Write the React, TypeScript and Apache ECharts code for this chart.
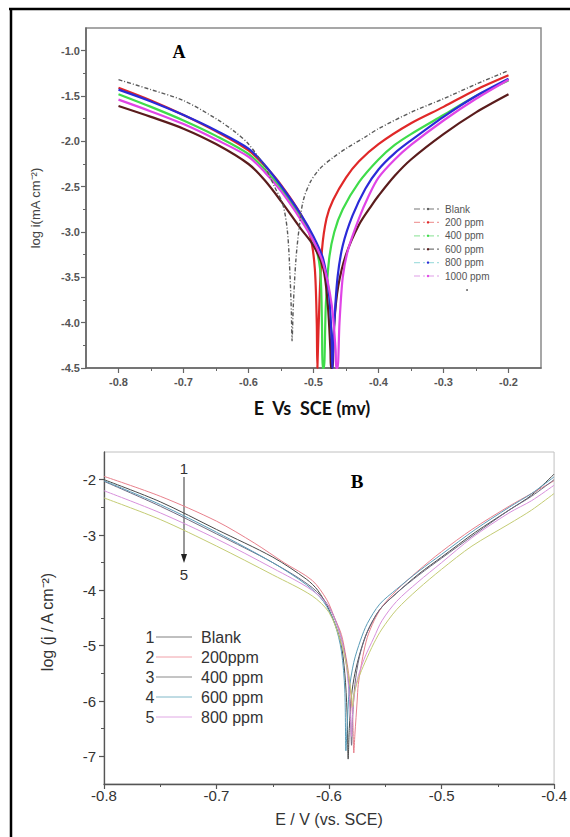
import React, { useEffect, useRef } from "react";
import * as echarts from "echarts";

// ---------- Panel A data ----------
const A_NAMES = ["Blank", "200 ppm", "400 ppm", "600 ppm", "800 ppm", "1000 ppm"];
const A_COLORS = ["#5a5a5a", "#e02828", "#3fdc4a", "#5a1c1c", "#2a2ad8", "#e044e6"];
const A_LEGEND_COLORS = ["#777777", "#f0a0a0", "#9ee8a8", "#777777", "#a8e0e0", "#e0a0e8"];
const A_BLANK = [[-0.8,-1.32],[-0.75,-1.43],[-0.7,-1.55],[-0.65,-1.75],[-0.62,-1.9],[-0.6,-2.03],[-0.575,-2.28],[-0.56,-2.5],[-0.547,-2.7],[-0.54,-3.0],[-0.536,-3.5],[-0.534,-3.9],[-0.533,-4.2],[-0.531,-3.8],[-0.527,-3.3],[-0.522,-2.95],[-0.516,-2.66],[-0.505,-2.45],[-0.49,-2.3],[-0.47,-2.18],[-0.45,-2.08],[-0.42,-1.95],[-0.4,-1.86],[-0.35,-1.68],[-0.3,-1.53],[-0.25,-1.37],[-0.2,-1.22]];
const A_200 = [[-0.8,-1.41],[-0.75,-1.55],[-0.7,-1.71],[-0.65,-1.89],[-0.6,-2.1],[-0.575,-2.27],[-0.55,-2.48],[-0.52,-2.8],[-0.505,-3.05],[-0.498,-3.4],[-0.495,-4.0],[-0.494,-4.5],[-0.493,-4.5],[-0.491,-3.8],[-0.487,-3.2],[-0.48,-2.85],[-0.47,-2.65],[-0.45,-2.4],[-0.43,-2.22],[-0.4,-2.03],[-0.35,-1.8],[-0.3,-1.62],[-0.25,-1.43],[-0.2,-1.27]];
const A_400 = [[-0.8,-1.48],[-0.75,-1.62],[-0.7,-1.77],[-0.65,-1.94],[-0.6,-2.14],[-0.575,-2.31],[-0.55,-2.52],[-0.52,-2.84],[-0.5,-3.1],[-0.49,-3.4],[-0.487,-4.0],[-0.486,-4.5],[-0.484,-4.5],[-0.481,-3.8],[-0.476,-3.3],[-0.468,-3.0],[-0.455,-2.75],[-0.43,-2.45],[-0.4,-2.2],[-0.375,-2.04],[-0.35,-1.92],[-0.3,-1.71],[-0.25,-1.5],[-0.2,-1.33]];
const A_600 = [[-0.8,-1.61],[-0.75,-1.73],[-0.7,-1.86],[-0.65,-2.03],[-0.6,-2.25],[-0.575,-2.43],[-0.55,-2.66],[-0.52,-2.96],[-0.5,-3.15],[-0.485,-3.4],[-0.478,-3.8],[-0.474,-4.3],[-0.473,-4.5],[-0.471,-4.5],[-0.468,-4.0],[-0.462,-3.6],[-0.45,-3.25],[-0.43,-2.92],[-0.41,-2.7],[-0.4,-2.6],[-0.375,-2.38],[-0.35,-2.2],[-0.3,-1.92],[-0.25,-1.68],[-0.2,-1.48]];
const A_800 = [[-0.8,-1.43],[-0.75,-1.56],[-0.7,-1.71],[-0.65,-1.88],[-0.6,-2.08],[-0.575,-2.26],[-0.55,-2.49],[-0.52,-2.8],[-0.5,-3.05],[-0.485,-3.3],[-0.476,-3.7],[-0.472,-4.2],[-0.471,-4.5],[-0.47,-4.5],[-0.468,-4.0],[-0.463,-3.5],[-0.455,-3.15],[-0.44,-2.82],[-0.42,-2.52],[-0.4,-2.31],[-0.375,-2.13],[-0.35,-1.99],[-0.3,-1.73],[-0.25,-1.5],[-0.2,-1.31]];
const A_1000 = [[-0.8,-1.54],[-0.75,-1.67],[-0.7,-1.81],[-0.65,-1.98],[-0.6,-2.17],[-0.575,-2.34],[-0.55,-2.55],[-0.52,-2.86],[-0.5,-3.1],[-0.485,-3.35],[-0.472,-3.8],[-0.466,-4.3],[-0.465,-4.5],[-0.463,-4.5],[-0.46,-4.0],[-0.455,-3.5],[-0.447,-3.2],[-0.43,-2.85],[-0.415,-2.6],[-0.4,-2.4],[-0.375,-2.2],[-0.35,-2.04],[-0.3,-1.77],[-0.25,-1.53],[-0.2,-1.32]];
const A_SERIES = [A_BLANK, A_200, A_400, A_600, A_800, A_1000];
const A_X_MAJOR = [-0.8, -0.7, -0.6, -0.5, -0.4, -0.3, -0.2];
const A_X_MINOR = [-0.75, -0.65, -0.55, -0.45, -0.35, -0.25];
const A_Y_MAJOR = [-4.5, -4.0, -3.5, -3.0, -2.5, -2.0, -1.5, -1.0];
const A_Y_MINOR = [-4.25, -3.75, -3.25, -2.75, -2.25, -1.75, -1.25];

// ---------- Panel B data ----------
const B_NAMES = ["Blank", "200ppm", "400 ppm", "600 ppm", "800 ppm"];
const B_NUMS = ["1", "2", "3", "4", "5"];
const B_COLORS = ["#4a4a4a", "#e8808c", "#6e6a80", "#5a9cb8", "#d890dc", "#c4cc74"];
const B_LEGEND_COLORS = ["#808080", "#f0a0a8", "#8a8a8a", "#80b8c8", "#e0a8e4"];
const B_BLANK = [[-0.8,-2.0],[-0.75,-2.4],[-0.7,-2.9],[-0.65,-3.4],[-0.62,-3.8],[-0.61,-4.0],[-0.6,-4.35],[-0.59,-4.9],[-0.586,-5.5],[-0.584,-6.2],[-0.583,-7.05],[-0.582,-6.5],[-0.58,-5.9],[-0.577,-5.5],[-0.572,-5.1],[-0.566,-4.75],[-0.555,-4.35],[-0.54,-4.05],[-0.52,-3.7],[-0.5,-3.4],[-0.47,-2.95],[-0.44,-2.55],[-0.42,-2.28],[-0.4,-1.9]];
const B_200 = [[-0.8,-1.94],[-0.75,-2.3],[-0.7,-2.75],[-0.666,-3.15],[-0.64,-3.5],[-0.615,-3.82],[-0.602,-4.17],[-0.595,-4.5],[-0.589,-4.8],[-0.585,-5.2],[-0.582,-5.6],[-0.579,-6.3],[-0.578,-6.94],[-0.577,-6.6],[-0.575,-6.0],[-0.574,-5.7],[-0.57,-5.2],[-0.566,-4.85],[-0.56,-4.55],[-0.553,-4.3],[-0.54,-4.0],[-0.521,-3.65],[-0.5,-3.3],[-0.473,-2.9],[-0.44,-2.48],[-0.42,-2.25],[-0.4,-2.02]];
const B_400 = [[-0.8,-2.03],[-0.75,-2.48],[-0.7,-2.98],[-0.65,-3.5],[-0.615,-3.95],[-0.6,-4.3],[-0.59,-4.8],[-0.584,-5.4],[-0.581,-6.2],[-0.58,-6.8],[-0.579,-6.3],[-0.577,-5.7],[-0.573,-5.2],[-0.566,-4.75],[-0.555,-4.35],[-0.54,-4.05],[-0.52,-3.72],[-0.5,-3.42],[-0.47,-2.98],[-0.44,-2.55],[-0.42,-2.3],[-0.4,-2.0]];
const B_600 = [[-0.8,-2.02],[-0.75,-2.45],[-0.7,-2.95],[-0.65,-3.5],[-0.62,-3.9],[-0.605,-4.2],[-0.595,-4.6],[-0.589,-5.1],[-0.586,-5.8],[-0.585,-6.9],[-0.584,-6.5],[-0.582,-5.8],[-0.578,-5.3],[-0.572,-4.9],[-0.566,-4.6],[-0.555,-4.25],[-0.54,-3.98],[-0.52,-3.65],[-0.5,-3.35],[-0.47,-2.9],[-0.44,-2.5],[-0.42,-2.25],[-0.4,-1.95]];
const B_800 = [[-0.8,-2.2],[-0.75,-2.6],[-0.7,-3.07],[-0.65,-3.6],[-0.615,-4.0],[-0.6,-4.3],[-0.59,-4.8],[-0.585,-5.3],[-0.582,-5.9],[-0.58,-6.64],[-0.579,-6.2],[-0.576,-5.7],[-0.569,-5.25],[-0.56,-4.85],[-0.553,-4.55],[-0.54,-4.2],[-0.521,-3.85],[-0.5,-3.5],[-0.473,-3.05],[-0.44,-2.6],[-0.42,-2.38],[-0.4,-2.1]];
const B_EXTRA = [[-0.8,-2.33],[-0.75,-2.72],[-0.7,-3.2],[-0.65,-3.72],[-0.615,-4.1],[-0.6,-4.4],[-0.59,-4.9],[-0.584,-5.4],[-0.58,-5.9],[-0.579,-6.1],[-0.578,-5.9],[-0.574,-5.6],[-0.568,-5.3],[-0.56,-4.95],[-0.553,-4.7],[-0.54,-4.35],[-0.521,-3.98],[-0.5,-3.62],[-0.473,-3.2],[-0.44,-2.8],[-0.42,-2.55],[-0.4,-2.25]];
const B_SERIES = [B_BLANK, B_200, B_400, B_600, B_800, B_EXTRA];
const B_X_MAJOR = [-0.8, -0.7, -0.6, -0.5, -0.4];
const B_X_MINOR = [-0.75, -0.65, -0.55, -0.45];
const B_Y_MAJOR = [-7, -6, -5, -4, -3, -2];
const B_Y_MINOR = [-6.5, -5.5, -4.5, -3.5, -2.5];

const SANS = "'Liberation Sans', Arial, sans-serif";
const SERIF = "'Liberation Serif', 'Times New Roman', serif";

function mainAxis(gridIndex: number, min: number, max: number, major: number[], opts: any) {
  return {
    type: "value",
    gridIndex,
    min,
    max,
    position: opts.position,
    splitLine: { show: false },
    axisLine: { show: true, onZero: false, lineStyle: { color: opts.lineColor, width: opts.lineWidth } },
    axisTick: { show: true, inside: false, length: 5, customValues: major, lineStyle: { color: opts.lineColor, width: 1.2 } },
    axisLabel: {
      show: true,
      customValues: major,
      margin: opts.margin,
      color: opts.labelColor,
      fontSize: opts.fontSize,
      fontFamily: SANS,
      fontWeight: opts.fontWeight || "normal",
      formatter: opts.formatter,
    },
  };
}

function minorAxis(gridIndex: number, min: number, max: number, minor: number[], position: string, color: string) {
  return {
    type: "value",
    gridIndex,
    min,
    max,
    position,
    splitLine: { show: false },
    axisLine: { show: false, onZero: false },
    axisTick: { show: true, inside: false, length: 3, customValues: minor, lineStyle: { color, width: 1 } },
    axisLabel: { show: false },
  };
}

export default function App() {
  const ref = useRef<HTMLDivElement>(null);

  useEffect(() => {
    if (!ref.current) return;
    const chart = echarts.init(ref.current, null, { renderer: "svg" });

    const seriesA = A_SERIES.map((d, i) => ({
      name: A_NAMES[i],
      type: "line",
      xAxisIndex: 0,
      yAxisIndex: 0,
      data: d,
      showSymbol: false,
      smooth: 0.3,
      lineStyle: i === 0
        ? { color: A_COLORS[i], width: 1.4, type: [4, 2, 1, 2] }
        : { color: A_COLORS[i], width: 2.2 },
      z: i === 0 ? 3 : 2,
    }));
    const seriesB = B_SERIES.map((d, i) => ({
      name: i < B_NAMES.length ? B_NAMES[i] : "extra",
      type: "line",
      xAxisIndex: 2,
      yAxisIndex: 2,
      data: d,
      showSymbol: false,
      smooth: 0.3,
      lineStyle: { color: B_COLORS[i], width: 1 },
    }));

    const graphic: any[] = [
      // outer frame
      { type: "line", shape: { x1: 9, y1: 9, x2: 570, y2: 9 }, style: { stroke: "#000", lineWidth: 2.5 } },
      { type: "line", shape: { x1: 11, y1: 8, x2: 11, y2: 837 }, style: { stroke: "#000", lineWidth: 2.5 } },
      // Panel A texts
      { type: "text", x: 179, y: 52, style: { text: "A", font: `bold 18px ${SERIF}`, fill: "#000", align: "center", verticalAlign: "middle" } },
      { type: "text", x: 312, y: 408, style: { text: "E  Vs  SCE (mv)", font: `bold 18px Lato, ${SANS}`, fill: "#111", align: "center", verticalAlign: "middle" } },
      { type: "text", x: 35, y: 208, rotation: Math.PI / 2, style: { text: "log i(mA cm⁻²)", font: `13px ${SANS}`, fill: "#444", align: "center", verticalAlign: "middle" } },
      // Panel B texts
      { type: "text", x: 357, y: 481, style: { text: "B", font: `bold 19px ${SERIF}`, fill: "#000", align: "center", verticalAlign: "middle" } },
      { type: "text", x: 329, y: 819, style: { text: "E / V (vs. SCE)", font: `16px ${SANS}`, fill: "#333", align: "center", verticalAlign: "middle" } },
      { type: "text", x: 47, y: 622, rotation: Math.PI / 2, style: { text: "log (j / A cm⁻²)", font: `16px ${SANS}`, fill: "#333", align: "center", verticalAlign: "middle" } },
      { type: "text", x: 184, y: 468, style: { text: "1", font: `15px ${SANS}`, fill: "#333", align: "center", verticalAlign: "middle" } },
      { type: "text", x: 184, y: 574, style: { text: "5", font: `15px ${SANS}`, fill: "#333", align: "center", verticalAlign: "middle" } },
      { type: "line", shape: { x1: 184, y1: 477, x2: 184, y2: 556 }, style: { stroke: "#333", lineWidth: 1 } },
      { type: "polygon", shape: { points: [[181, 554], [187, 554], [184, 563]] }, style: { fill: "#222" } },
    ];

    // Panel A legend
    A_NAMES.forEach((n, i) => {
      const y = 209 + i * 13.4;
      graphic.push({ type: "line", shape: { x1: 414, y1: y, x2: 442, y2: y }, style: { stroke: A_LEGEND_COLORS[i], lineWidth: 1.2, lineDash: [6, 3, 2, 3] } });
      graphic.push({ type: "circle", shape: { cx: 428, cy: y, r: 1.2 }, style: { fill: A_COLORS[i] } });
      graphic.push({ type: "text", x: 445, y, style: { text: n, font: `10px ${SANS}`, fill: "#555", align: "left", verticalAlign: "middle" } });
    });
    graphic.push({ type: "circle", shape: { cx: 467, cy: 290, r: 0.9 }, style: { fill: "#555" } });

    // Panel B legend
    B_NAMES.forEach((n, i) => {
      const y = 637 + i * 20;
      graphic.push({ type: "text", x: 150, y, style: { text: B_NUMS[i], font: `16px ${SANS}`, fill: "#333", align: "center", verticalAlign: "middle" } });
      graphic.push({ type: "line", shape: { x1: 156, y1: y, x2: 192, y2: y }, style: { stroke: B_LEGEND_COLORS[i], lineWidth: 1 } });
      graphic.push({ type: "text", x: 201, y, style: { text: n, font: `16px ${SANS}`, fill: "#333", align: "left", verticalAlign: "middle" } });
    });

    const fmt1 = (v: number) => v.toFixed(1);
    const fmtInt = (v: number) => String(Math.round(v));

    chart.setOption({
      animation: false,
      backgroundColor: "#ffffff",
      grid: [
        { left: 86, top: 28, width: 455, height: 340, show: true, borderColor: "#8a8a8a", borderWidth: 1.5, backgroundColor: "transparent" },
        { left: 104, top: 452, width: 451, height: 332, show: true, borderColor: "#c0c0c0", borderWidth: 1, backgroundColor: "transparent" },
      ],
      xAxis: [
        mainAxis(0, -0.85, -0.15, A_X_MAJOR, { position: "bottom", lineColor: "#666", lineWidth: 1.6, margin: 8, labelColor: "#555", fontSize: 11, fontWeight: "bold", formatter: fmt1 }),
        minorAxis(0, -0.85, -0.15, A_X_MINOR, "bottom", "#666"),
        mainAxis(1, -0.8, -0.4, B_X_MAJOR, { position: "bottom", lineColor: "#555", lineWidth: 1.3, margin: 4, labelColor: "#333", fontSize: 15, formatter: fmt1 }),
        minorAxis(1, -0.8, -0.4, B_X_MINOR, "bottom", "#555"),
      ],
      yAxis: [
        mainAxis(0, -4.5, -0.75, A_Y_MAJOR, { position: "left", lineColor: "#666", lineWidth: 1.6, margin: 6, labelColor: "#555", fontSize: 11, fontWeight: "bold", formatter: fmt1 }),
        minorAxis(0, -4.5, -0.75, A_Y_MINOR, "left", "#666"),
        mainAxis(1, -7.5, -1.5, B_Y_MAJOR, { position: "left", lineColor: "#555", lineWidth: 1.3, margin: 8, labelColor: "#333", fontSize: 15, formatter: fmtInt }),
        minorAxis(1, -7.5, -1.5, B_Y_MINOR, "left", "#555"),
      ],
      series: [...seriesA, ...seriesB],
      graphic,
    });

    return () => chart.dispose();
  }, []);

  return (
    <div
      ref={ref}
      style={{ position: "fixed", left: 0, top: 0, width: 570, height: 837, background: "#fff" }}
    />
  );
}
